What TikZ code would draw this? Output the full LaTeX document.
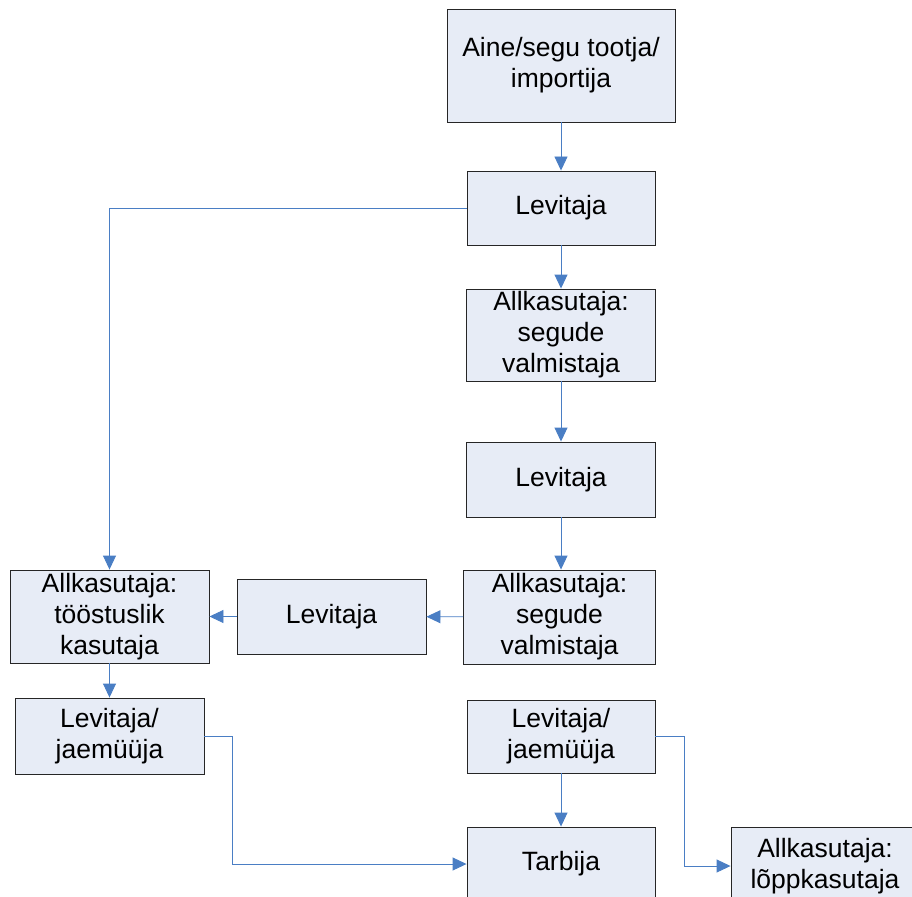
\documentclass[tikz,border=0pt]{standalone}
\usepackage{fontspec}
\setmainfont{Liberation Sans}
\usepackage{tikz}
\usetikzlibrary{arrows.meta}
\definecolor{boxfill}{HTML}{E7ECF6}
\definecolor{linkblue}{HTML}{4A7EC4}
\tikzset{
  blok/.style={draw=black!85, fill=boxfill, line width=0.9pt, align=center,
    inner sep=0pt, font=\fontsize{26.5}{31}\selectfont},
  link/.style={draw=linkblue, line width=0.9pt,
    -{Triangle[length=14pt,width=13pt]}, color=linkblue}
}
\newcommand{\blok}[6]{\node[blok, minimum width=#4pt, minimum height=#5pt] (#1) at ( #2 , #3 ) {#6};}

\begin{document}
\begin{tikzpicture}[x=1pt,y=-1pt]
        \useasboundingbox (0,0) rectangle (912,896);
        % middle column
        \blok{tootja}{561}{65.5}{228}{113}{Aine/segu tootja/\\importija}
        \blok{levA}{561}{208}{188}{74}{Levitaja}
        \blok{segudA}{561}{335}{189}{92}{Allkasutaja:\\segude\\valmistaja}
        \blok{levB}{561}{479.5}{189}{75}{Levitaja}
        \blok{segudB}{559.5}{617}{192}{94}{Allkasutaja:\\segude\\valmistaja}
        \blok{jaeR}{561}{736.5}{188}{73}{Levitaja/\\jaem\"u\"uja}
        \blok{tarbija}{561}{864}{188}{74}{Tarbija}
        \blok{lopp}{825}{866}{188}{78}{Allkasutaja:\\lõppkasutaja}
        % left side
        \blok{toost}{109.5}{616.5}{199}{93}{Allkasutaja:\\tööstuslik\\kasutaja}
        \blok{levC}{331.5}{616.5}{189}{75}{Levitaja}
        \blok{jaeL}{109.5}{736}{189}{76}{Levitaja/\\jaem\"u\"uja}
        % links
        \draw[link] (tootja) -- (levA);
        \draw[link] (levA.west) -| (toost.north);
        \draw[link] (levA) -- (segudA);
        \draw[link] (segudA) -- (levB);
        \draw[link] (levB.south) -- (levB.south |- segudB.north);
        \draw[link] (segudB) -- (levC);
        \draw[link] (levC) -- (toost);
        \draw[link] (toost) -- (jaeL);
        \draw[link] (jaeL.east) -- ++(28,0) |- (tarbija.west);
        \draw[link] (jaeR) -- (tarbija);
        \draw[link] (jaeR.east) -- ++(29,0) |- (lopp.west);
    \end{tikzpicture}
\end{document}
